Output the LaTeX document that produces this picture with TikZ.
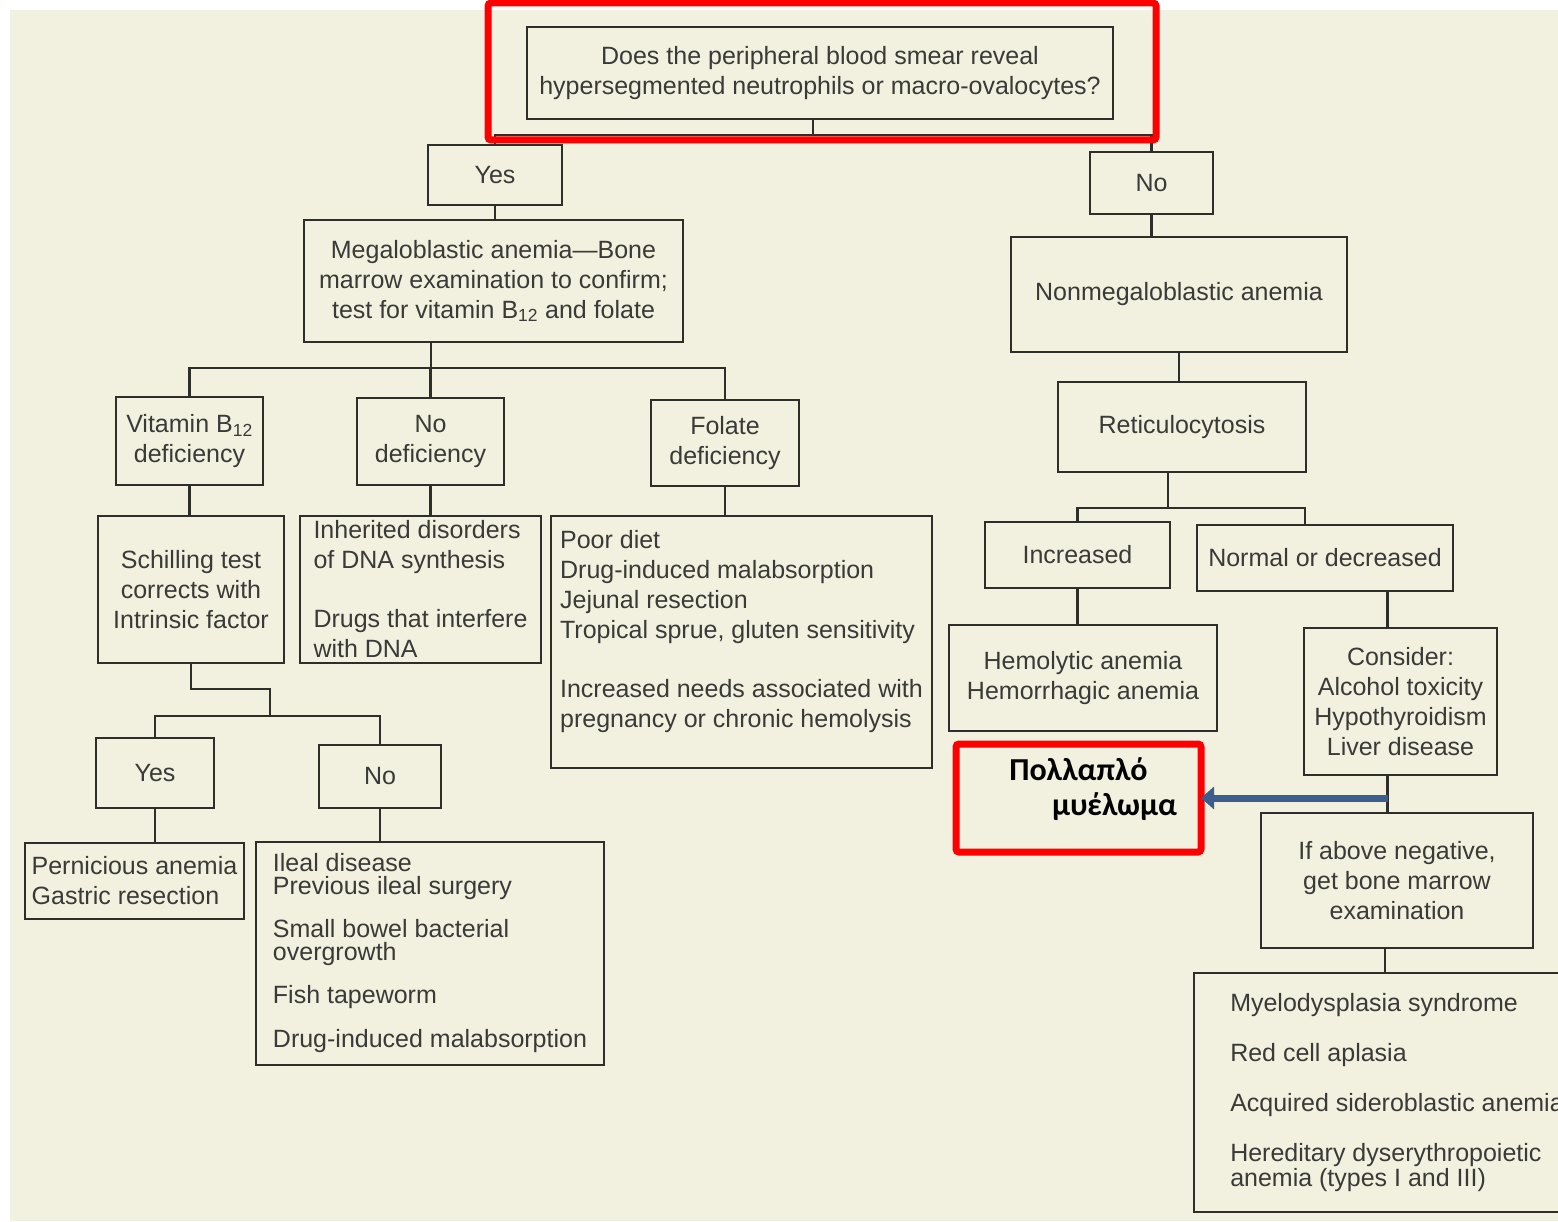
\documentclass[tikz,border=0pt]{standalone}
\usepackage{fontspec}
\setmainfont{Liberation Sans}
\newfontfamily\greekfont{Carlito}
\usetikzlibrary{arrows.meta}
\definecolor{paper}{HTML}{F2F0DE}
\definecolor{boxline}{HTML}{2E2E2A}
\definecolor{boxtext}{HTML}{3A3A38}
\definecolor{arrowblue}{HTML}{3B5E8C}
\tikzset{
  box/.style={draw=boxline, line width=2.8pt, text=boxtext, align=center, inner sep=0pt, outer sep=0pt, anchor=north west, font=\fontsize{25}{30}\selectfont},
  listbox/.style={box, align=left},
  link/.style={draw=boxline, line width=2.8pt},
  redframe/.style={draw=red, line width=7pt, rounded corners=3pt},
  redbox/.style={redframe, anchor=north west, outer sep=0pt, inner sep=0pt, align=center, text=black, font=\greekfont\bfseries\fontsize{32}{35}\selectfont},
  bluearrow/.style={draw=arrowblue, line width=7pt, -{Triangle[length=13pt,width=22pt]}}
}
\begin{document}
\begin{tikzpicture}[x=1pt,y=-1pt]
\useasboundingbox (0,0) rectangle (1558,1222);
\clip (0,0) rectangle (1558,1222);
\fill[paper] (10,10) rectangle (1558,1221);

% question and first answers
\node[box, minimum width=586pt, minimum height=92pt] (q) at (527,27) {Does the peripheral blood smear reveal\\hypersegmented neutrophils or macro-ovalocytes?};
\node[box, minimum width=134pt, minimum height=60pt] (yes) at (428,145) {Yes};
\node[box, minimum width=123pt, minimum height=62pt] (no) at (1090,152) {No};

% megaloblastic branch
\node[box, minimum width=379pt, minimum height=122pt] (mega) at (304,220) {Megaloblastic anemia---Bone\\marrow examination to confirm;\\test for vitamin B\textsubscript{12} and folate};
\node[box, minimum width=147pt, minimum height=88pt] (b12) at (116,397) {Vitamin B\textsubscript{12}\\deficiency};
\node[box, minimum width=147pt, minimum height=87pt] (nodef) at (357,398) {No\\deficiency};
\node[box, minimum width=148pt, minimum height=86pt] (fol) at (651,400) {Folate\\deficiency};
\node[box, minimum width=186pt, minimum height=147pt] (sch) at (98,516) {Schilling test\\corrects with\\Intrinsic factor};
\node[listbox, minimum width=241pt, minimum height=147pt] (inh) at (300,516) {Inherited disorders\\of DNA synthesis\\[29pt]Drugs that interfere\\with DNA};
\node[listbox, minimum width=381pt, minimum height=252pt] (poor) at (551,516) {Poor diet\\Drug-induced malabsorption\\Jejunal resection\\Tropical sprue, gluten sensitivity\\[29pt]Increased needs associated with\\pregnancy or chronic hemolysis\\[-3pt]\mbox{}};
\node[box, minimum width=118pt, minimum height=70pt] (yes2) at (96,738) {Yes};
\node[box, minimum width=122pt, minimum height=63pt] (no2) at (319,745) {No};
\node[listbox, minimum width=219pt, minimum height=76pt] (pern) at (25,843) {Pernicious anemia\\Gastric resection};
\node[listbox, minimum width=348pt, minimum height=223pt] (ileal) at (256,842) {Ileal disease\\[-7pt]Previous ileal surgery\\[13pt]Small bowel bacterial\\[-7pt]overgrowth\\[13pt]Fish tapeworm\\[14pt]Drug-induced malabsorption};

% nonmegaloblastic branch
\node[box, minimum width=336pt, minimum height=115pt] (nonmega) at (1011,237) {Nonmegaloblastic anemia};
\node[box, minimum width=248pt, minimum height=90pt] (retic) at (1058,382) {Reticulocytosis};
\node[box, minimum width=185pt, minimum height=66pt] (inc) at (985,522) {Increased};
\node[box, minimum width=256pt, minimum height=66pt] (norm) at (1197,525) {Normal or decreased};
\node[box, minimum width=268pt, minimum height=106pt] (hemo) at (949,625) {Hemolytic anemia\\Hemorrhagic anemia};
\node[box, minimum width=193pt, minimum height=147pt] (cons) at (1304,628) {Consider:\\Alcohol toxicity\\Hypothyroidism\\Liver disease};
\node[box, minimum width=272pt, minimum height=135pt] (ifab) at (1261,813) {If above negative,\\get bone marrow\\examination};
\node[listbox, minimum width=406pt, minimum height=239pt] (myelo) at (1194,973) {Myelodysplasia syndrome\\[20pt]Red cell aplasia\\[20pt]Acquired sideroblastic anemia\\[20pt]Hereditary dyserythropoietic\\[-5pt]anemia (types I and III)};

% connectors
\coordinate (qj) at (813,135);
\draw[link] (q.south -| qj) -- (qj);
\draw[link] (yes.north) |- (qj) -| (no.north);
\draw[link] (yes.south) -- (yes.south |- mega.north);
\coordinate (mj) at (431,368);
\draw[link] (mega.south -| mj) -- (mj);
\draw[link] (b12.north) |- (mj) -| (fol.north);
\draw[link] (nodef.north) -- (nodef.north |- mj);
\draw[link] (b12.south) -- (b12.south |- sch.north);
\draw[link] (nodef.south) -- (nodef.south |- inh.north);
\draw[link] (fol.south) -- (fol.south |- poor.north);
\coordinate (sk) at (270,689);
\coordinate (sj) at (270,716);
\draw[link] (sch.south) |- (sk) -- (sj);
\draw[link] (yes2.north) |- (sj) -| (no2.north);
\draw[link] (yes2.south) -- (yes2.south |- pern.north);
\draw[link] (no2.south) -- (no2.south |- ileal.north);

\draw[link] (no.south) -- (no.south |- nonmega.north);
\draw[link] (nonmega.south) -- (nonmega.south |- retic.north);
\coordinate (rj) at (1168,508);
\draw[link] (retic.south -| rj) -- (rj);
\draw[link] (inc.north) |- (rj) -| ([xshift=-20pt]norm.north);
\draw[link] (inc.south) -- (inc.south |- hemo.north);
\draw[link] ([xshift=-13pt]cons.north) -- ([xshift=-13pt]cons.north |- norm.south);
\draw[link] ([xshift=-13pt]cons.south) -- ([xshift=-13pt]cons.south |- ifab.north);
\draw[link] ([xshift=-12pt]ifab.south) -- ([xshift=-12pt]ifab.south |- myelo.north);

% red highlights
\draw[redframe] (488,3) rectangle (1156,140);
\node[redbox, minimum width=245pt, minimum height=108pt] (myeloma) at (956,744) {Πολλαπλό\\\hspace*{72pt}μυέλωμα\\[-12pt]\mbox{}};
\coordinate (aj) at ([xshift=-13pt]cons.south |- myeloma.east);
\draw[bluearrow] (aj) -- (myeloma.east);
\end{tikzpicture}
\end{document}
